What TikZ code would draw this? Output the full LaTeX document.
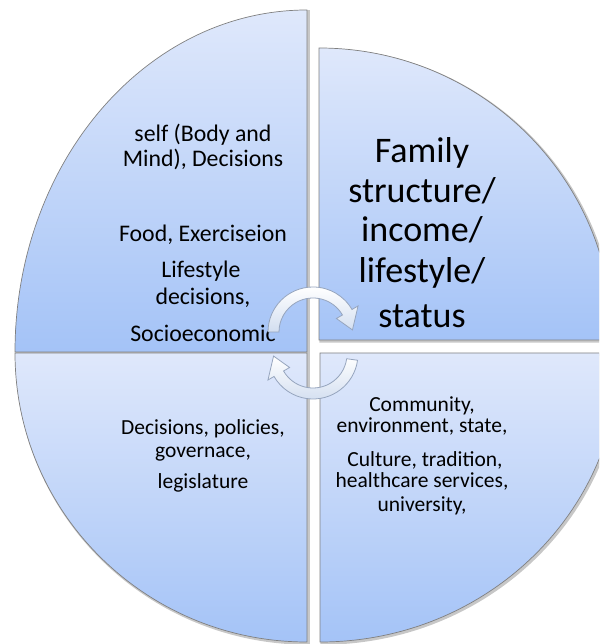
\documentclass[tikz,border=0pt]{standalone}
\usepackage{fontspec}
\setmainfont{Carlito}
\definecolor{qtop}{RGB}{223,232,251}
\definecolor{qbot}{RGB}{164,195,247}
\definecolor{arrowline}{RGB}{150,165,190}
\definecolor{arrowbot}{RGB}{210,222,240}
\begin{document}
\begin{tikzpicture}[x=1pt,y=1pt,
  quad/.style={draw=black!50, line width=0.7pt, top color=qtop, bottom color=qbot},
  shadowq/.style={draw=black!22, fill=black!22, line width=2.5pt},
  lbl/.style={anchor=base, inner sep=0pt, font=\fontsize{23.8}{28}\selectfont},
  lbs/.style={anchor=base, inner sep=0pt, font=\fontsize{21.5}{26}\selectfont},
  big/.style={anchor=base, inner sep=0pt, font=\fontsize{36}{40}\selectfont},
  cyc/.style={draw=arrowline, line width=0.8pt, top color=white, bottom color=arrowbot},
  pTL/.style={insert path={(307,292) -- (307,634) arc[start angle=90,end angle=180,x radius=292,y radius=342] -- cycle}},
  pTR/.style={insert path={(319,304) -- (319,596) arc[start angle=90,end angle=0,x radius=294,y radius=292] -- cycle}},
  pBL/.style={insert path={(307,291) -- (15,291) arc[start angle=180,end angle=270,x radius=292,y radius=289] -- cycle}},
  pBR/.style={insert path={(320,291) -- (620,291) arc[start angle=0,end angle=-90,x radius=300,y radius=289] -- cycle}},
]
\useasboundingbox (0,0) rectangle (599,644);
\clip (0,0) rectangle (599,644);
% shadows
\path[shadowq, shift={(1.5,-1.5)}, pTL];
\path[shadowq, shift={(1.5,-1.5)}, pTR];
\path[shadowq, shift={(1.5,-1.5)}, pBL];
\path[shadowq, shift={(1.5,-1.5)}, pBR];
% quadrants
\path[quad, pTL];
\path[quad, pTR];
\path[quad, pBL];
\path[quad, pBR];
% top-left texts
\node[lbl] (tl1) at (203,502) {self (Body and};
\node[lbl] (tl2) at (203,477) {Mind), Decisions};
\node[lbl] (tl3) at (203,402) {Food, Exerciseion};
\node[lbl] (tl4) at (201,366) {Lifestyle};
\node[lbl] (tl5) at (203,339) {decisions,};
\node[lbl] (tl6) at (203,302) {Socioeconomic};
% top-right texts
\node[big] (tr1) at (422,481) {Family};
\node[big] (tr2) at (422,441) {structure/};
\node[big] (tr3) at (422,402) {income/};
\node[big] (tr4) at (422,361) {lifestyle/};
\node[big] (tr5) at (422,316) {status};
% bottom-left texts
\node[lbs] (bl1) at (203,209) {Decisions, policies,};
\node[lbs] (bl2) at (203,186) {governace,};
\node[lbs] (bl3) at (203,155) {legislature};
% bottom-right texts
\node[lbs] (br1) at (422,232) {Community,};
\node[lbs] (br2) at (422,211) {environment, state,};
\node[lbs] (br3) at (425,177) {Culture, tradition,};
\node[lbs] (br4) at (422,156) {healthcare services,};
\node[lbs] (br5) at (422,132) {university,};
% circular arrows
\begin{scope}[shift={(313,312)}]
\path[cyc] (180:45) arc[start angle=180,end angle=30,radius=45] -- (30:52) -- (3:39.5) -- (30:27) -- (30:34) arc[start angle=30,end angle=180,radius=34] -- cycle;
\end{scope}
\begin{scope}[shift={(313,290)}]
\path[cyc] (-8:45) arc[start angle=-8,end angle=-150,radius=45] -- (-150:52) -- (-177:39.5) -- (-150:27) -- (-150:34) arc[start angle=-150,end angle=-8,radius=34] -- cycle;
\end{scope}
\end{tikzpicture}
\end{document}
